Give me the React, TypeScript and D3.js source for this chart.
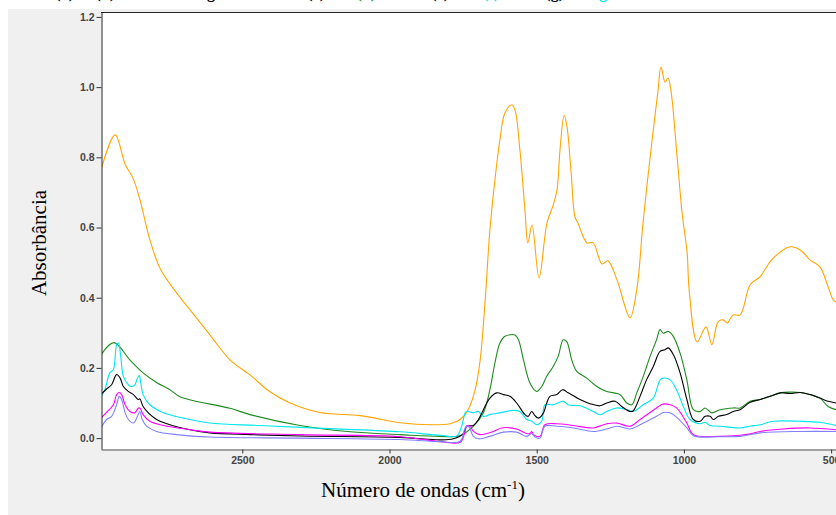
import { useEffect, useRef } from "react";
import * as d3 from "d3";

const W = 836;
const H = 515;

// [número de ondas (cm-1), absorbância]
const laranja: [number, number][] = [
  [2980, 0.764], [2932, 0.864], [2898, 0.78], [2871, 0.74], [2848, 0.68], [2814, 0.565],
  [2780, 0.485], [2729, 0.42], [2678, 0.366], [2610, 0.294], [2542, 0.223], [2474, 0.18],
  [2406, 0.132], [2338, 0.1], [2236, 0.073], [2100, 0.064], [1964, 0.044], [1862, 0.038],
  [1794, 0.041], [1760, 0.053], [1733, 0.081], [1709, 0.138], [1692, 0.223], [1675, 0.394],
  [1659, 0.593], [1642, 0.735], [1625, 0.85], [1608, 0.926], [1585, 0.949], [1574, 0.935],
  [1557, 0.82], [1540, 0.65], [1530, 0.556], [1516, 0.607], [1492, 0.457], [1465, 0.613],
  [1444, 0.664], [1431, 0.707], [1421, 0.82], [1407, 0.92], [1397, 0.886], [1383, 0.755],
  [1370, 0.63], [1360, 0.613], [1329, 0.556], [1309, 0.557], [1278, 0.496], [1258, 0.505],
  [1227, 0.45], [1183, 0.343], [1159, 0.43], [1139, 0.613], [1108, 0.85], [1088, 0.99],
  [1078, 1.057], [1064, 1.014], [1054, 1.026], [1044, 0.99], [1023, 0.8], [1006, 0.64],
  [989, 0.527], [982, 0.42], [955, 0.274], [925, 0.317], [905, 0.266], [884, 0.331],
  [867, 0.337], [853, 0.328], [833, 0.351], [809, 0.351], [775, 0.437], [741, 0.46],
  [707, 0.503], [673, 0.53], [639, 0.545], [605, 0.536], [572, 0.508], [538, 0.488],
  [510, 0.431], [493, 0.394], [483, 0.388],
];

const verde: [number, number][] = [
  [2980, 0.237], [2936, 0.272], [2882, 0.223], [2837, 0.186], [2790, 0.158], [2746, 0.138],
  [2712, 0.118], [2542, 0.085], [2474, 0.067], [2304, 0.036], [2134, 0.018], [1964, 0.01],
  [1828, 0.005], [1760, 0.007], [1715, 0.034], [1681, 0.072], [1659, 0.138], [1642, 0.214],
  [1625, 0.271], [1608, 0.29], [1574, 0.294], [1562, 0.28], [1545, 0.223], [1523, 0.157],
  [1500, 0.133], [1483, 0.147], [1466, 0.176], [1444, 0.204], [1427, 0.233], [1410, 0.28],
  [1398, 0.275], [1381, 0.223], [1364, 0.19], [1330, 0.171], [1296, 0.147], [1262, 0.133],
  [1217, 0.124], [1194, 0.1], [1177, 0.095], [1160, 0.129], [1138, 0.176], [1115, 0.233],
  [1093, 0.28], [1081, 0.309], [1070, 0.299], [1053, 0.304], [1036, 0.29], [1013, 0.242],
  [990, 0.166], [968, 0.081], [945, 0.076], [928, 0.086], [906, 0.072], [877, 0.081],
  [832, 0.086], [809, 0.086], [775, 0.105], [741, 0.11], [707, 0.119], [673, 0.129],
  [639, 0.131], [605, 0.13], [572, 0.124], [538, 0.114], [510, 0.09], [483, 0.081],
];

const preto: [number, number][] = [
  [2980, 0.125], [2961, 0.14], [2944, 0.152], [2927, 0.181], [2915, 0.171], [2904, 0.147],
  [2887, 0.133], [2870, 0.124], [2853, 0.11], [2848, 0.112], [2837, 0.09], [2819, 0.072],
  [2791, 0.053], [2746, 0.038], [2678, 0.024], [2610, 0.015], [2474, 0.01], [2304, 0.006],
  [1964, 0.002], [1828, -0.005], [1783, -0.002], [1749, 0.013], [1738, 0.034], [1715, 0.036],
  [1698, 0.053], [1681, 0.081], [1659, 0.114], [1636, 0.129], [1613, 0.124], [1591, 0.119],
  [1568, 0.1], [1540, 0.067], [1529, 0.062], [1517, 0.076], [1506, 0.064], [1494, 0.057],
  [1477, 0.072], [1466, 0.1], [1455, 0.119], [1432, 0.124], [1412, 0.138], [1393, 0.129],
  [1353, 0.11], [1319, 0.098], [1285, 0.092], [1262, 0.1], [1234, 0.105], [1211, 0.09],
  [1183, 0.076], [1172, 0.078], [1149, 0.119], [1127, 0.166], [1104, 0.204], [1081, 0.247],
  [1064, 0.252], [1053, 0.257], [1036, 0.238], [1013, 0.186], [990, 0.11], [968, 0.053],
  [945, 0.048], [928, 0.062], [911, 0.062], [900, 0.053], [883, 0.062], [855, 0.067],
  [832, 0.076], [809, 0.081], [775, 0.102], [741, 0.11], [707, 0.119], [673, 0.129],
  [639, 0.127], [605, 0.13], [572, 0.124], [538, 0.114], [510, 0.105], [483, 0.1],
];

const ciano: [number, number][] = [
  [2980, 0.118], [2967, 0.138], [2950, 0.186], [2938, 0.195], [2927, 0.266], [2921, 0.271],
  [2913, 0.233], [2904, 0.176], [2887, 0.152], [2876, 0.147], [2865, 0.152], [2856, 0.171],
  [2850, 0.178], [2844, 0.152], [2837, 0.124], [2814, 0.095], [2768, 0.072], [2700, 0.057],
  [2610, 0.043], [2440, 0.036], [2202, 0.027], [1964, 0.018], [1828, 0.008], [1772, 0.006],
  [1755, 0.034], [1743, 0.072], [1738, 0.076], [1715, 0.072], [1698, 0.076], [1681, 0.062],
  [1659, 0.067], [1625, 0.072], [1580, 0.079], [1557, 0.076], [1534, 0.053], [1517, 0.048],
  [1500, 0.038], [1483, 0.048], [1472, 0.095], [1444, 0.095], [1410, 0.105], [1393, 0.095],
  [1353, 0.092], [1308, 0.076], [1285, 0.067], [1262, 0.076], [1228, 0.086], [1194, 0.081],
  [1172, 0.076], [1138, 0.095], [1104, 0.114], [1081, 0.166], [1070, 0.171], [1047, 0.166],
  [1025, 0.138], [1002, 0.09], [979, 0.053], [945, 0.041], [928, 0.045], [911, 0.036],
  [877, 0.034], [809, 0.029], [775, 0.034], [741, 0.038], [697, 0.048], [605, 0.048],
  [538, 0.045], [483, 0.036],
];

const magenta: [number, number][] = [
  [2980, 0.057], [2958, 0.076], [2938, 0.095], [2927, 0.124], [2918, 0.13], [2910, 0.124],
  [2898, 0.095], [2882, 0.076], [2865, 0.072], [2856, 0.083], [2848, 0.086], [2837, 0.067],
  [2814, 0.048], [2768, 0.036], [2678, 0.024], [2610, 0.017], [2304, 0.01], [1964, 0.004],
  [1828, -0.01], [1760, -0.012], [1743, 0.019], [1738, 0.034], [1726, 0.034], [1715, 0.019],
  [1693, 0.01], [1647, 0.019], [1619, 0.029], [1568, 0.026], [1534, 0.013], [1523, 0.013],
  [1517, 0.019], [1511, 0.01], [1489, 0.005], [1472, 0.038], [1432, 0.041], [1376, 0.036],
  [1308, 0.029], [1262, 0.041], [1228, 0.043], [1183, 0.034], [1149, 0.053], [1093, 0.086],
  [1070, 0.097], [1047, 0.095], [1025, 0.086], [990, 0.043], [968, 0.01], [877, 0.005],
  [809, 0.008], [775, 0.012], [741, 0.019], [663, 0.026], [572, 0.029], [483, 0.024],
];

const azul: [number, number][] = [
  [2980, 0.029], [2961, 0.053], [2944, 0.062], [2927, 0.095], [2918, 0.119], [2910, 0.11],
  [2898, 0.072], [2887, 0.053], [2870, 0.043], [2856, 0.062], [2848, 0.076], [2840, 0.053],
  [2825, 0.034], [2791, 0.019], [2723, 0.01], [2610, 0.003], [2304, 0.0], [1964, -0.004],
  [1828, -0.01], [1760, -0.009], [1743, 0.029], [1732, 0.034], [1715, 0.005], [1698, -0.002],
  [1659, 0.005], [1613, 0.017], [1568, 0.017], [1534, 0.005], [1517, 0.013], [1506, 0.003],
  [1489, 0.0], [1472, 0.034], [1432, 0.034], [1376, 0.029], [1308, 0.019], [1262, 0.026],
  [1228, 0.034], [1183, 0.026], [1149, 0.038], [1093, 0.062], [1070, 0.073], [1047, 0.072],
  [1025, 0.06], [990, 0.029], [968, 0.007], [877, 0.004], [809, 0.005], [741, 0.015],
  [605, 0.019], [483, 0.019],
];

const xTicks = [2500, 2000, 1500, 1000, 500];
const yTicks = [0, 0.2, 0.4, 0.6, 0.8, 1.0, 1.2];

const series = [
  { data: laranja, color: "#ffa500" },
  { data: verde, color: "#1f8a1f" },
  { data: ciano, color: "#00e5f0" },
  { data: preto, color: "#000000" },
  { data: magenta, color: "#ff00ff" },
  { data: azul, color: "#8080ff" },
];

// restos da legenda cortada no topo
const caption = [
  { text: "(a),", x: 78, color: "#000" },
  { text: "(b)", x: 115, color: "#000" },
  { text: "mg", x: 215, color: "#000" },
  { text: "(c)", x: 325, color: "#000" },
  { text: "(d)", x: 376, color: "#1f8a1f" },
  { text: "(e),", x: 453, color: "#000" },
  { text: "(f)", x: 499, color: "#00e5f0" },
  { text: "(g),", x: 568, color: "#000" },
  { text: "g", x: 607, color: "#00e5f0" },
];

const App = () => {
  const svgRef = useRef<SVGSVGElement>(null);

  useEffect(() => {
    const svg = d3.select(svgRef.current);
    svg.selectAll("*").remove();

    const left = 101;
    const top = 12;
    const bottom = 449;

    svg.append("rect").attr("width", W).attr("height", H).attr("fill", "#fff");
    svg
      .append("rect")
      .attr("x", 8)
      .attr("y", 9)
      .attr("width", W - 8)
      .attr("height", H - 9)
      .attr("fill", "#f0f0f0");

    // legenda cortada (só as descendentes aparecem)
    svg
      .append("g")
      .selectAll("text")
      .data(caption)
      .enter()
      .append("text")
      .attr("x", (d) => d.x)
      .attr("y", -2)
      .attr("text-anchor", "end")
      .attr("font-family", "Liberation Serif")
      .attr("font-weight", "bold")
      .attr("font-size", 16)
      .attr("fill", (d) => d.color)
      .text((d) => d.text);

    const x = d3.scaleLinear().domain([2980, 480]).range([left, 837]);
    const y = d3.scaleLinear().domain([-0.031, 1.214]).range([bottom, top]);

    // plot area
    svg
      .append("rect")
      .attr("x", left)
      .attr("y", top)
      .attr("width", W - left)
      .attr("height", bottom - top)
      .attr("fill", "#fff");

    svg
      .append("clipPath")
      .attr("id", "plot-clip")
      .append("rect")
      .attr("x", left + 1)
      .attr("y", top)
      .attr("width", W - left)
      .attr("height", bottom - top);

    const line = d3
      .line<[number, number]>()
      .x((d) => x(d[0]))
      .y((d) => y(d[1]))
      .curve(d3.curveCatmullRom.alpha(0.5));

    svg
      .append("g")
      .attr("clip-path", "url(#plot-clip)")
      .selectAll("path")
      .data(series)
      .enter()
      .append("path")
      .attr("fill", "none")
      .attr("stroke", (d) => d.color)
      .attr("stroke-width", 1.1)
      .attr("d", (d) => line(d.data));

    // top frame
    svg
      .append("line")
      .attr("x1", left)
      .attr("x2", W)
      .attr("y1", top + 0.5)
      .attr("y2", top + 0.5)
      .attr("stroke", "#222");

    // X axis
    const gx = svg
      .append("g")
      .attr("transform", `translate(0,${bottom + 0.5})`)
      .call(
        d3
          .axisBottom(x)
          .tickValues(xTicks)
          .tickSize(4)
          .tickSizeOuter(0)
          .tickPadding(3)
          .tickFormat(d3.format("d"))
      );
    gx.select(".domain").attr("stroke", "#555");
    gx.selectAll(".tick line").attr("stroke", "#333");
    gx.selectAll("text")
      .attr("fill", "#444")
      .attr("font-family", "Liberation Sans")
      .attr("font-weight", "bold")
      .attr("font-size", 10.5);

    // Y axis
    const gy = svg
      .append("g")
      .attr("transform", `translate(${left + 0.5},0)`)
      .call(
        d3
          .axisLeft(y)
          .tickValues(yTicks)
          .tickSize(5)
          .tickSizeOuter(0)
          .tickPadding(2)
          .tickFormat(d3.format(".1f"))
      );
    gy.select(".domain").attr("stroke", "#222");
    gy.selectAll(".tick line").attr("stroke", "#333");
    gy.selectAll("text")
      .attr("fill", "#444")
      .attr("font-family", "Liberation Sans")
      .attr("font-weight", "bold")
      .attr("font-size", 10.5);

    // axis titles
    svg
      .append("text")
      .attr("transform", "translate(46,243) rotate(-90)")
      .attr("text-anchor", "middle")
      .attr("font-family", "Liberation Serif")
      .attr("font-size", 21)
      .attr("fill", "#000")
      .text("Absorbância");

    const xt = svg
      .append("text")
      .attr("x", 423)
      .attr("y", 497)
      .attr("text-anchor", "middle")
      .attr("font-family", "Liberation Serif")
      .attr("font-size", 21)
      .attr("fill", "#000");
    xt.append("tspan").text("Número de ondas (cm");
    xt.append("tspan").attr("font-size", 13).attr("dy", -8).text("-1");
    xt.append("tspan").attr("dy", 8).text(")");
  }, []);

  return (
    <svg
      ref={svgRef}
      width={W}
      height={H}
      style={{ position: "absolute", left: 0, top: 0 }}
    />
  );
};

export default App;
